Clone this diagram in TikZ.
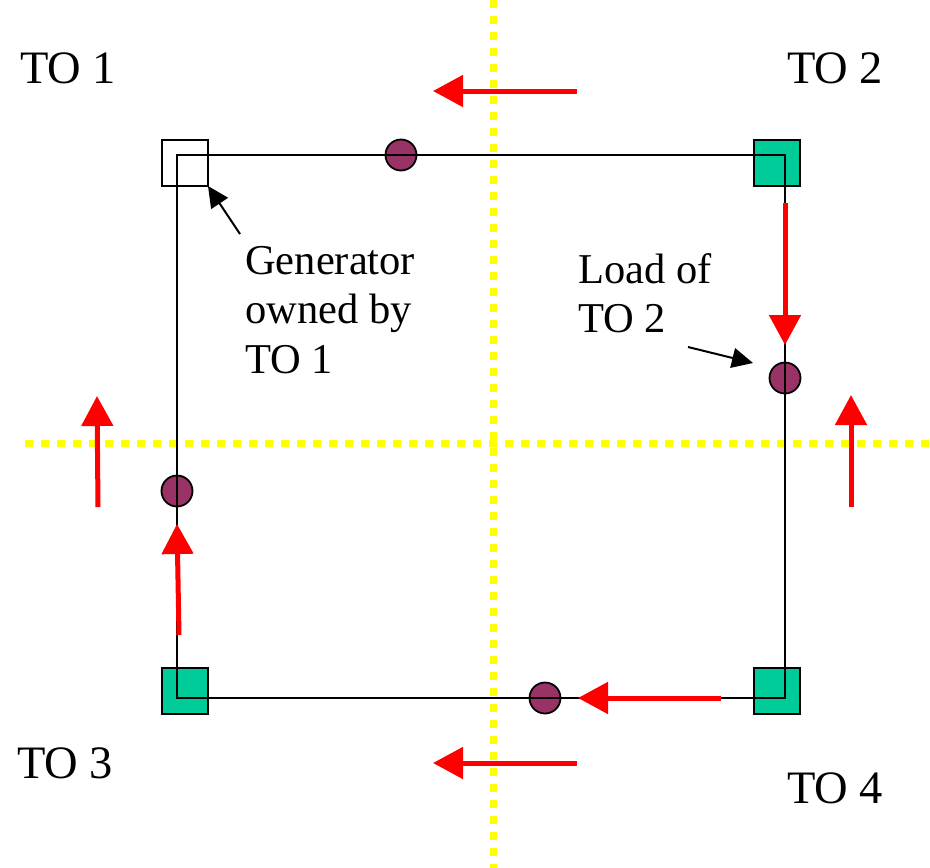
\documentclass[tikz,border=0pt]{standalone}
\usepackage{fontspec}
\setmainfont{Liberation Serif}
\usetikzlibrary{arrows.meta}
\definecolor{togreen}{RGB}{0,204,153}
\definecolor{busred}{RGB}{153,51,102}
\definecolor{flowred}{RGB}{255,0,0}
\definecolor{bordery}{RGB}{255,255,0}
\begin{document}
\begin{tikzpicture}[x=1pt,y=-1pt,
  sqbox/.style={draw=black,line width=2pt,minimum size=46pt,inner sep=0pt,outer sep=0pt},
  busdot/.style={circle,draw=black,line width=1.8pt,fill=busred,minimum size=31pt,inner sep=0pt},
  netline/.style={draw=black,line width=2pt},
  flow/.style={draw=flowred,line width=5pt,-{Triangle[length=30pt,width=31pt]}},
  pointer/.style={draw=black,line width=2pt,-{Triangle[length=21pt,width=20pt]}},
  border/.style={draw=bordery,line width=7pt,dash pattern=on 8pt off 8pt},
  tolabel/.style={anchor=base west,inner sep=0pt,font=\fontsize{46.5}{50}\selectfont},
  note/.style={anchor=north west,inner sep=0pt,align=left,font=\fontsize{42.5}{49.5}\selectfont}]
\useasboundingbox (0,0) rectangle (930,868);
% zone borders
\coordinate (vtop) at (493,0);
\coordinate (vbot) at (493,868);
\coordinate (hleft) at (25,443);
\coordinate (hright) at (930,443);
\draw[border] (vtop) -- (vbot);
\draw[border] (hleft) -- (hright);
% TO squares
\node[sqbox,fill=white] (g1) at (185,163) {};
\node[sqbox,fill=togreen] (s2) at (777,163) {};
\node[sqbox,fill=togreen] (s3) at (185,691) {};
\node[sqbox,fill=togreen] (s4) at (777,691) {};
% buses
\node[busdot] (b1) at (401,155) {};
\node[busdot] (b2) at (785,378) {};
\node[busdot] (b3) at (177,491) {};
\node[busdot] (b4) at (545,698) {};
% network
\coordinate (c1) at (177,155);
\coordinate (c2) at (785,155);
\coordinate (c3) at (177,698);
\coordinate (c4) at (785,698);
\draw[netline] (c1) -- (c2) -- (c4) -- (c3) -- cycle;
% flows
\coordinate (ft1) at (577,91);  \coordinate (fh1) at (433,91);
\coordinate (ft2) at (577,763); \coordinate (fh2) at (433,763);
\coordinate (ft3) at (785,203); \coordinate (fh3) at (785,345);
\coordinate (ft4) at (851,507); \coordinate (fh4) at (851,395);
\coordinate (ft5) at (98,507);  \coordinate (fh5) at (97,396);
\coordinate (ft6) at (179,635); \coordinate (fh6) at (177,524);
\coordinate (ft7) at (721,698); \coordinate (fh7) at (578,698);
\draw[flow] (ft1) -- (fh1);
\draw[flow] (ft2) -- (fh2);
\draw[flow] (ft3) -- (fh3);
\draw[flow] (ft4) -- (fh4);
\draw[flow] (ft5) -- (fh5);
\draw[flow] (ft6) -- (fh6);
\draw[flow] (ft7) -- (fh7);
% labels
\node[tolabel] (t1) at (20,83) {TO 1};
\node[tolabel] (t2) at (787,83) {TO 2};
\node[tolabel] (t3) at (17,778) {TO 3};
\node[tolabel] (t4) at (787,803) {TO 4};
\node[note] (gen) at (245,246) {Generator\\owned by\\TO 1};
\node[note] (load) at (578,253) {Load of\\TO 2};
% pointers
\coordinate (gentail) at (240,234);
\draw[pointer] (gentail) -- (g1.south east);
\coordinate (loadtail) at (688,347);
\coordinate (loadtip) at (753,363);
\draw[pointer] (loadtail) -- (loadtip);
\end{tikzpicture}
\end{document}
